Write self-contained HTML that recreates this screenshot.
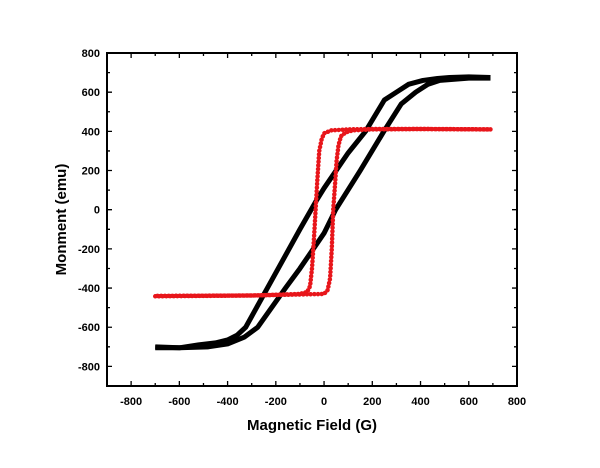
<!DOCTYPE html>
<html><head><meta charset="utf-8"><style>
html,body{margin:0;padding:0;background:#fff}
svg text{font-family:"Liberation Sans",Arial,sans-serif;font-weight:bold}
</style></head><body>
<svg id="chart" width="600" height="463" xmlns="http://www.w3.org/2000/svg"></svg>
<script>
const xTicks=[-800,-600,-400,-200,0,200,400,600,800];
const yTicks=[-800,-600,-400,-200,0,200,400,600,800];
const blackDownX=[690,600,520,470,410,350,300,250,172,100,50,0,-35,-100,-235,-325,-360,-400,-450,-520,-600,-700];
const blackDownY=[675,678,675,670,660,640,600,560,400,290,200,110,40,-100,-400,-600,-640,-665,-680,-690,-705,-700];
const blackUpX=[-700,-600,-480,-400,-330,-275,-160,-100,0,48,150,248,320,380,430,480,600,690];
const blackUpY=[-705,-705,-700,-685,-650,-600,-400,-300,-120,0,200,400,540,600,640,660,672,672];
const redDownX=[690,400,200,100,30,0,-10,-20,-28,-35,-42,-50,-58,-70,-100,-300,-700];
const redDownY=[410,412,412,410,405,390,360,300,150,0,-150,-300,-390,-420,-430,-438,-440];
const redUpX=[-700,-300,0,15,25,32,38,45,52,60,70,90,120,200,400,690];
const redUpY=[-442,-438,-430,-410,-350,-200,0,120,250,330,375,395,405,410,412,410];

const L=107,R=517,T=53,B=386,xmin=-900,xmax=800,ymin=-900,ymax=800;
const sx=v=>L+(v-xmin)/(xmax-xmin)*(R-L);
const sy=v=>B-(v-ymin)/(ymax-ymin)*(B-T);
const svg=document.getElementById('chart');
const NS='http://www.w3.org/2000/svg';
function mk(tag,attrs){const e=document.createElementNS(NS,tag);for(const k in attrs)e.setAttribute(k,attrs[k]);svg.appendChild(e);return e;}
let d='';
xTicks.forEach((v,i)=>{const x=sx(v);d+=`M${x},${B}v-5M${x},${T}v5`;
 const m=sx(v+100); if(v+100<xmax) d+=`M${m},${B}v-3M${m},${T}v3`;
 const t=mk('text',{x:x,y:B+19,'text-anchor':'middle','font-size':11});t.textContent=v;
 
 });
yTicks.forEach(v=>{const y=sy(v);d+=`M${L},${y}h5M${R},${y}h-5`;
 const m=sy(v-100); d+=`M${L},${m}h3M${R},${m}h-3`;
 const t=mk('text',{x:L-7,y:y+4,'text-anchor':'end','font-size':11});t.textContent=v;
 
 });
const ticks=mk('path',{d:d,stroke:'#000','stroke-width':1.3,fill:'none'});


function line(xs,ys,attrs,name){const p=xs.map((x,i)=>sx(x)+','+sy(ys[i])).join(' ');
 const e=mk('polyline',Object.assign({points:p,fill:'none'},attrs));
 
 }
line(blackDownX,blackDownY,{stroke:'#000','stroke-width':5,'stroke-linejoin':'round'},'black-loop-descending');
line(blackUpX,blackUpY,{stroke:'#000','stroke-width':5,'stroke-linejoin':'round'},'black-loop-ascending');
line(redDownX,redDownY,{stroke:'#e8161b','stroke-width':4.5,'stroke-linecap':'round','stroke-dasharray':'0.1 3.6'},'red-loop-descending');
line(redUpX,redUpY,{stroke:'#e8161b','stroke-width':4.5,'stroke-linecap':'round','stroke-dasharray':'0.1 3.6'},'red-loop-ascending');
const box=mk('rect',{x:L,y:T,width:R-L,height:B-T,fill:'none',stroke:'#000','stroke-width':2});


const xt=mk('text',{x:(L+R)/2,y:430,'text-anchor':'middle','font-size':15});xt.textContent='Magnetic Field (G)';


const yt=mk('text',{x:0,y:0,'text-anchor':'middle','font-size':15,transform:`translate(66,${(T+B)/2}) rotate(-90)`});yt.textContent='Monment (emu)';


</script>
</body></html>
